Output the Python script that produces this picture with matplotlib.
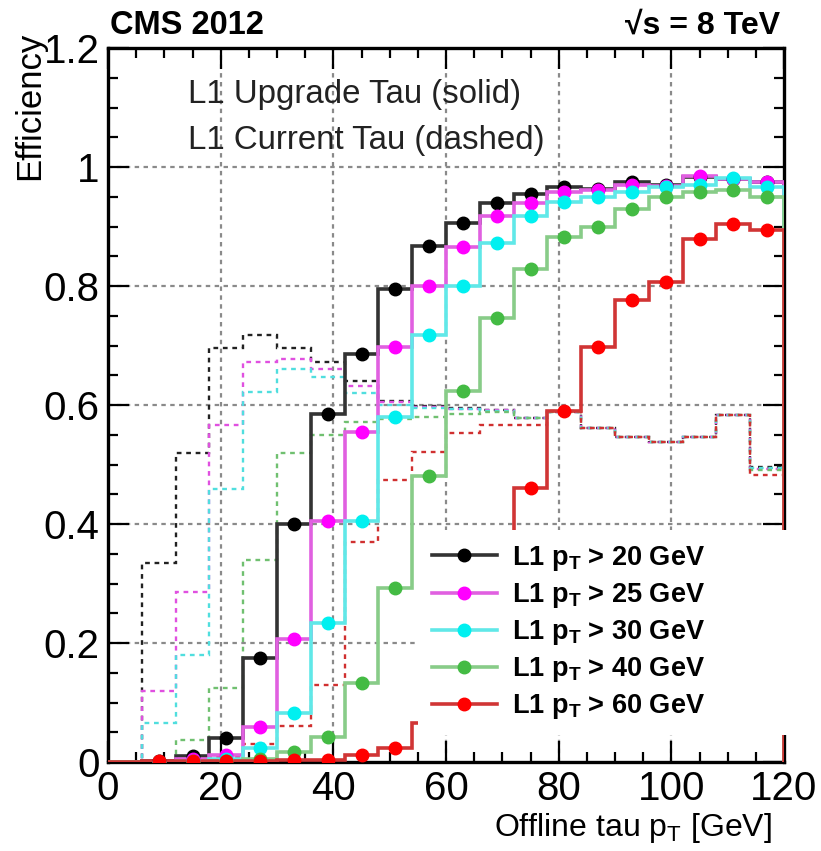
import numpy as np
import matplotlib
matplotlib.use("Agg")
import matplotlib.pyplot as plt
from matplotlib.lines import Line2D
from matplotlib.patches import Rectangle
from matplotlib.ticker import MultipleLocator

plt.rcParams['font.family'] = ['Liberation Sans', 'DejaVu Sans']
plt.rcParams['mathtext.fontset'] = 'custom'
plt.rcParams['mathtext.rm'] = 'Liberation Sans'
plt.rcParams['mathtext.bf'] = 'Liberation Sans:bold'

# ---- data ----
bin_edges = np.arange(0, 121, 6)
thresholds = ["20", "25", "30", "40", "60"]

upgrade_20 = [0, 0.002, 0.01, 0.04, 0.175, 0.40, 0.585, 0.685, 0.795, 0.867, 0.906, 0.94, 0.955, 0.966, 0.963, 0.975, 0.97, 0.983, 0.98, 0.975]
upgrade_25 = [0, 0.0, 0.005, 0.012, 0.058, 0.207, 0.405, 0.555, 0.697, 0.80, 0.866, 0.917, 0.94, 0.958, 0.962, 0.97, 0.968, 0.985, 0.98, 0.975]
upgrade_30 = [0, 0, 0.002, 0.005, 0.023, 0.082, 0.233, 0.405, 0.58, 0.718, 0.80, 0.873, 0.917, 0.941, 0.95, 0.958, 0.966, 0.97, 0.981, 0.966]
upgrade_40 = [0, 0, 0, 0.002, 0.005, 0.017, 0.042, 0.133, 0.292, 0.48, 0.623, 0.746, 0.828, 0.882, 0.90, 0.929, 0.95, 0.958, 0.961, 0.95]
upgrade_60 = [0, 0.002, 0.002, 0.002, 0.002, 0.003, 0.004, 0.012, 0.023, 0.065, 0.15, 0.30, 0.46, 0.59, 0.697, 0.776, 0.807, 0.879, 0.904, 0.894]

current_20 = [0, 0.334, 0.52, 0.695, 0.717, 0.695, 0.672, 0.64, 0.607, 0.598, 0.595, 0.592, 0.578, 0.588, 0.562, 0.546, 0.538, 0.546, 0.583, 0.495]
current_25 = [0, 0.12, 0.286, 0.566, 0.672, 0.678, 0.66, 0.632, 0.605, 0.597, 0.594, 0.591, 0.578, 0.588, 0.562, 0.546, 0.538, 0.546, 0.583, 0.492]
current_30 = [0, 0.066, 0.18, 0.459, 0.622, 0.66, 0.647, 0.62, 0.6, 0.595, 0.593, 0.59, 0.578, 0.588, 0.562, 0.546, 0.538, 0.546, 0.583, 0.494]
current_40 = [0, 0, 0.037, 0.125, 0.34, 0.52, 0.55, 0.572, 0.576, 0.58, 0.585, 0.588, 0.578, 0.588, 0.562, 0.546, 0.538, 0.546, 0.583, 0.49]
current_60 = [0, 0, 0.003, 0.008, 0.03, 0.06, 0.13, 0.37, 0.474, 0.521, 0.553, 0.566, 0.566, 0.59, 0.562, 0.546, 0.538, 0.546, 0.583, 0.482]

upgrade = [upgrade_20, upgrade_25, upgrade_30, upgrade_40, upgrade_60]
current = [current_20, current_25, current_30, current_40, current_60]

line_colors = ["#333333", "#e060e0", "#60e8e8", "#88cc88", "#d03535"]
marker_colors = ["#000000", "#ff00ff", "#00f0f0", "#44bb44", "#ff0000"]
dash_colors = ["#222222", "#e050e0", "#50dede", "#70c070", "#d03030"]

# ---- figure ----
fig = plt.figure(figsize=(8.21, 8.51), dpi=100)
ax = fig.add_axes([108/821, 1-762/851, (784-108)/821, (762-48)/851])

centers = 0.5 * (bin_edges[:-1] + bin_edges[1:])

for vals, c in zip(current, dash_colors):
    ax.stairs(vals, bin_edges, color=c, lw=1.7, linestyle=(0, (2, 2)), zorder=2)

for vals, lc, mc in zip(upgrade, line_colors, marker_colors):
    ax.stairs(vals, bin_edges, color=lc, lw=2.6, zorder=3)
    ax.plot(centers[1:], vals[1:], 'o', color=mc, ms=9, mec=mc, zorder=3.1)

ax.set_xlim(0, 120)
ax.set_ylim(0, 1.2)
ax.xaxis.set_minor_locator(MultipleLocator(5))
ax.yaxis.set_minor_locator(MultipleLocator(0.05))
ax.set_xticks([0, 20, 40, 60, 80, 100, 120])
ax.set_xticklabels(["0", "20", "40", "60", "80", "100", "120"])
ax.set_yticks([0, 0.2, 0.4, 0.6, 0.8, 1.0, 1.2])
ax.set_yticklabels(["0", "0.2", "0.4", "0.6", "0.8", "1", "1.2"])
ax.tick_params(which='both', direction='in', top=True, right=True, width=1.6, color='black')
ax.tick_params(which='major', length=15, labelsize=29, pad=6)
ax.tick_params(which='minor', length=7.5)
for s in ax.spines.values():
    s.set_linewidth(2.4)

for gx in [20, 40, 60, 80, 100]:
    ax.axvline(gx, color='#8a8a8a', lw=1.6, linestyle=(0, (2, 2)), zorder=1)
for gy in [0.2, 0.4, 0.6, 0.8, 1.0]:
    ax.axhline(gy, color='#8a8a8a', lw=1.6, linestyle=(0, (2, 2)), zorder=1)

fig.text(30/821, 1-106/851, "Efficiency", fontsize=25, rotation=90, va='center', ha='center')
fig.text(772/821, 1-828/851, r"Offline tau p$_{\mathrm{T}}$ [GeV]", fontsize=23, va='center', ha='right')

fig.text(110/821, 1-26/851, "CMS 2012", fontsize=23.5, fontweight='bold', va='center', ha='left')
fig.text(780/821, 1-26/851, "\u221as = 8 TeV", fontsize=23, fontweight='bold', va='center', ha='right')

fig.text(188/821, 1-95/851, "L1 Upgrade Tau (solid)", fontsize=23.8, color='#222222', va='center', ha='left')
fig.text(188/821, 1-140/851, "L1 Current Tau (dashed)", fontsize=23.8, color='#222222', va='center', ha='left')

# legend background box (covers frame like the original)
bg = Rectangle((418/821, 1-735/851), (790-418)/821, (735-530)/851, transform=fig.transFigure,
               facecolor='white', edgecolor='none', zorder=4, clip_on=False)
ax.add_patch(bg)

handles = []
labels = []
for t, lc, mc in zip(thresholds, line_colors, marker_colors):
    handles.append(Line2D([0], [0], color=lc, lw=2.6, marker='o', ms=9, mfc=mc, mec=mc))
    labels.append(r"L1 p$_{\mathbf{T}}$ > " + t + " GeV")
leg = ax.legend(handles, labels, loc='upper left', bbox_to_anchor=(413/821, 1-525/851),
                bbox_transform=fig.transFigure, frameon=False,
                prop={'weight': 'bold', 'size': 19.5}, handlelength=2.4, handletextpad=0.55,
                labelspacing=0.3, borderpad=0.2)
leg.set_zorder(5)

fig.savefig("out.png", dpi=100)
